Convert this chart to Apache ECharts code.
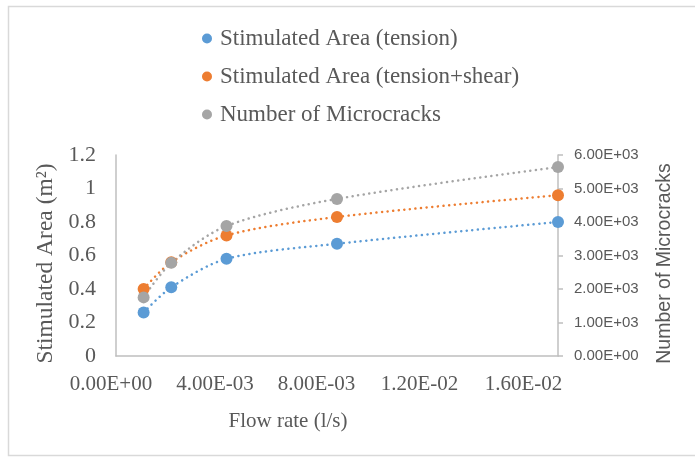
<!DOCTYPE html>
<html>
<head>
<meta charset="utf-8">
<script src="https://cdn.jsdelivr.net/npm/echarts@6/dist/echarts.min.js"></script>
<style>
  html, body { margin: 0; padding: 0; background: #fff; }
  #chart { width: 695px; height: 457px; }
</style>
</head>
<body>
<div id="chart"></div>
<script>
// Flow rate (l/s) for each simulation run
const flowRates = [0.001, 0.002, 0.004, 0.008, 0.016];
// Stimulated area (m²), tension-only failures
const areaTension = [0.26, 0.41, 0.58, 0.67, 0.80];
// Stimulated area (m²), tension + shear failures
const areaTensionShear = [0.40, 0.56, 0.72, 0.83, 0.96];
// Total number of microcracks
const microcracks = [1750, 2780, 3880, 4690, 5640];

const seriesNames = [
  'Stimulated Area (tension)',
  'Stimulated Area (tension+shear)',
  'Number of Microcracks'
];

const SERIF = "'Liberation Serif', 'Times New Roman', serif";
const SANS = "'Liberation Sans', Arial, sans-serif";
const TEXT = '#595959';
const AXIS = '#BFBFBF';

// Excel-style scientific notation, e.g. 4.00E-03
function sci(v) {
  if (v === 0) return '0.00E+00';
  let e = Math.floor(Math.log10(Math.abs(v)));
  let m = v / Math.pow(10, e);
  if (Math.abs(m) >= 9.995) { m /= 10; e += 1; }
  if (Math.abs(m) < 1) { m *= 10; e -= 1; }
  return m.toFixed(2) + 'E' + (e < 0 ? '-' : '+') + String(Math.abs(e)).padStart(2, '0');
}

function pairs(xs, ys) {
  return xs.map((x, i) => [x, ys[i]]);
}

const dotted = (color) => ({
  color: color,
  width: 2.5,
  type: [0.1, 5.5],
  cap: 'round'
});

function makeSeries(name, values, color, axisIndex) {
  return {
    name: name,
    type: 'line',
    yAxisIndex: axisIndex,
    data: pairs(flowRates, values),
    smooth: 0.3,
    symbol: 'circle',
    symbolSize: 12,
    itemStyle: { color: color },
    lineStyle: dotted(color)
  };
}

// Flow-rate tick labels sit progressively left of their ticks
const xLabelRich = {};
[10, 23, 41, 56, 69].forEach((pad, i) => {
  xLabelRich['t' + i] = { fontFamily: SERIF, fontSize: 21, color: TEXT, padding: [0, pad, 0, 0] };
});

const chart = echarts.init(document.getElementById('chart'), null, { renderer: 'canvas' });

chart.setOption({
  animation: false,
  backgroundColor: '#ffffff',
  graphic: [{
    type: 'rect',
    shape: { x: 8.5, y: 6.5, width: 700, height: 449 },
    style: { fill: 'none', stroke: '#D9D9D9', lineWidth: 1.5 },
    silent: true
  }],
  legend: {
    orient: 'vertical',
    left: 202,
    top: 27,
    padding: 0,
    itemGap: 15,
    itemWidth: 10,
    itemHeight: 10,
    icon: 'circle',
    data: seriesNames,
    textStyle: { fontFamily: SERIF, fontSize: 23, color: TEXT, lineHeight: 22, padding: [0, 0, 0, 3] }
  },
  grid: { left: 116, right: 137, top: 155, bottom: 101 },
  xAxis: {
    type: 'value',
    min: 0,
    max: 0.016,
    interval: 0.004,
    name: 'Flow rate (l/s)',
    nameLocation: 'middle',
    nameGap: 55,
    nameTextStyle: { fontFamily: SERIF, fontSize: 21, color: TEXT, padding: [0, 98, 0, 0] },
    axisLine: { show: true, lineStyle: { color: AXIS, width: 1.5 } },
    axisTick: { show: false },
    splitLine: { show: false },
    axisLabel: {
      margin: 18,
      fontFamily: SERIF,
      fontSize: 21,
      color: TEXT,
      formatter: (v, i) => '{t' + i + '|' + sci(v) + '}',
      rich: xLabelRich
    }
  },
  yAxis: [{
    type: 'value',
    min: 0,
    max: 1.2,
    interval: 0.2,
    name: 'Stimulated Area (m²)',
    nameLocation: 'middle',
    nameRotate: 90,
    nameGap: 58,
    nameTextStyle: { fontFamily: SERIF, fontSize: 23.5, color: TEXT, padding: [0, 16, 0, 0] },
    axisLine: { show: true, lineStyle: { color: AXIS, width: 1.5 } },
    axisTick: { show: false },
    splitLine: { show: false },
    axisLabel: {
      margin: 20,
      fontFamily: SERIF,
      fontSize: 22,
      color: TEXT,
      formatter: (v) => String(Math.round(v * 10) / 10)
    }
  }, {
    type: 'value',
    position: 'right',
    min: 0,
    max: 6000,
    interval: 1000,
    name: 'Number of Microcracks',
    nameLocation: 'middle',
    nameRotate: 90,
    nameGap: 97,
    nameTextStyle: { fontFamily: SANS, fontSize: 19.5, color: TEXT, padding: [0, 16, 0, 0] },
    axisLine: { show: true, lineStyle: { color: AXIS, width: 1.5 } },
    axisTick: { show: true, length: 5, inside: false, lineStyle: { color: AXIS, width: 1.5 } },
    splitLine: { show: false },
    axisLabel: {
      margin: 16,
      fontFamily: SANS,
      fontSize: 15,
      color: TEXT,
      formatter: sci
    }
  }],
  series: [
    makeSeries(seriesNames[0], areaTension, '#5B9BD5', 0),
    makeSeries(seriesNames[1], areaTensionShear, '#ED7D31', 0),
    makeSeries(seriesNames[2], microcracks, '#A5A5A5', 1)
  ]
});
</script>
</body>
</html>
